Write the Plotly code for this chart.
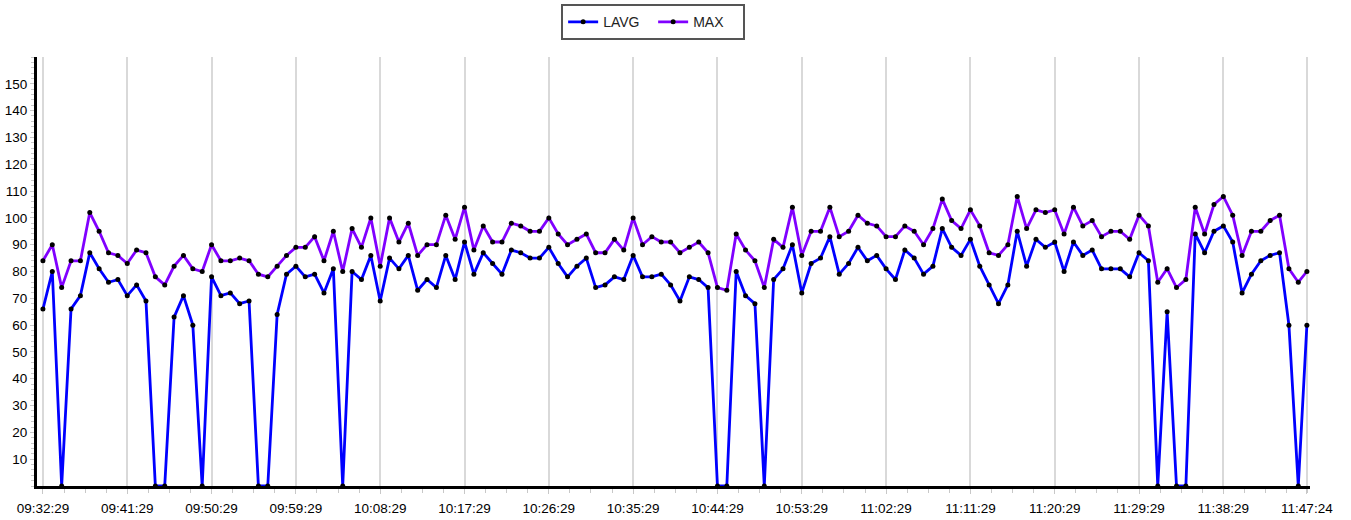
import datetime as dt
import plotly.graph_objects as go

# ---- data ----
start_time = "09:32:29"
last_time = "11:47:24"
lavg = [66, 80, 0, 66, 71, 87, 81, 76, 77, 71, 75, 69, 0, 0, 63, 71, 60, 0, 78, 71,
        72, 68, 69, 0, 0, 64, 79, 82, 78, 79, 72, 81, 0, 80, 77, 86, 69, 85, 81, 86,
        73, 77, 74, 86, 77, 91, 79, 87, 83, 79, 88, 87, 85, 85, 89, 83, 78, 82, 85, 74,
        75, 78, 77, 86, 78, 78, 79, 75, 69, 78, 77, 74, 0, 0, 80, 71, 68, 0, 77, 81,
        90, 72, 83, 85, 93, 79, 83, 89, 84, 86, 81, 77, 88, 85, 79, 82, 96, 89, 86, 92,
        82, 75, 68, 75, 95, 82, 92, 89, 91, 80, 91, 86, 88, 81, 81, 81, 78, 87, 84, 0,
        65, 0, 0, 94, 87, 95, 97, 91, 72, 79, 84, 86, 87, 60, 0, 60]
maxv = [84, 90, 74, 84, 84, 102, 95, 87, 86, 83, 88, 87, 78, 75, 82, 86, 81, 80, 90, 84,
        84, 85, 84, 79, 78, 82, 86, 89, 89, 93, 84, 95, 80, 96, 89, 100, 82, 100, 91, 98,
        86, 90, 90, 101, 92, 104, 88, 97, 91, 91, 98, 97, 95, 95, 100, 94, 90, 92, 94, 87,
        87, 92, 88, 100, 90, 93, 91, 91, 87, 89, 91, 87, 74, 73, 94, 88, 84, 74, 92, 89,
        104, 86, 95, 95, 104, 93, 95, 101, 98, 97, 93, 93, 97, 95, 90, 96, 107, 99, 96, 103,
        97, 87, 86, 90, 108, 96, 103, 102, 103, 94, 104, 97, 99, 93, 95, 95, 92, 101, 97, 76,
        81, 74, 77, 104, 94, 105, 108, 101, 86, 95, 95, 99, 101, 81, 76, 80]
y_tick_vals = list(range(10, 160, 10))

# ---- build time axis (one sample per minute, final sample at last_time) ----
day = "2024-01-01 "
t0 = dt.datetime.strptime(day + start_time, "%Y-%m-%d %H:%M:%S")
tl = dt.datetime.strptime(day + last_time, "%Y-%m-%d %H:%M:%S")
times = [t0 + dt.timedelta(minutes=i) for i in range(len(lavg) - 1)] + [tl]

tick_times = []
t = t0
while t < tl - dt.timedelta(minutes=5):
    tick_times.append(t)
    t += dt.timedelta(minutes=9)
tick_times.append(tl)
tick_text = [x.strftime("%H:%M:%S") for x in tick_times]

fig = go.Figure()
fig.add_trace(go.Scatter(
    x=times, y=lavg, name="LAVG", mode="lines+markers",
    line=dict(color="#0000ff", width=2.8),
    marker=dict(color="#000000", size=5),
    cliponaxis=False,
))
fig.add_trace(go.Scatter(
    x=times, y=maxv, name="MAX", mode="lines+markers",
    line=dict(color="#8000ff", width=2.8),
    marker=dict(color="#000000", size=5),
    cliponaxis=False,
))

fig.update_layout(
    width=1351, height=520,
    margin=dict(l=37, r=41, t=57, b=34, autoexpand=False),
    paper_bgcolor="white", plot_bgcolor="white",
    font=dict(family="Liberation Sans, Arial, sans-serif", size=13.5, color="#000"),
    showlegend=True,
    legend=dict(
        orientation="h", x=0.484, xanchor="center", y=1.123, yanchor="top",
        bordercolor="#555555", borderwidth=2, bgcolor="white",
        font=dict(size=14, color="#222"),
        entrywidth=45,
    ),
)
fig.update_xaxes(
    type="date", automargin=False,
    range=[t0 - dt.timedelta(seconds=38), tl + dt.timedelta(seconds=20)],
    tickvals=tick_times, ticktext=tick_text,
    showgrid=True, gridcolor="#d9d9d9", gridwidth=2,
    showline=True, linecolor="#000", linewidth=3,
    ticks="outside", ticklen=5, tickcolor="#c8c8c8", tickwidth=1,
    ticklabelstandoff=3,
    minor=dict(tick0=t0, dtick=135000, ticks="outside", ticklen=4,
               tickcolor="#c8c8c8", showgrid=False),
    zeroline=False, fixedrange=True,
)
fig.update_yaxes(
    range=[0, 160], automargin=False,
    tickvals=y_tick_vals,
    showgrid=False,
    showline=True, linecolor="#000", linewidth=3,
    ticks="outside", ticklen=4, tickcolor="#c8c8c8", tickwidth=1,
    minor=dict(dtick=2, ticks="outside", ticklen=3, tickcolor="#c8c8c8", showgrid=False),
    zeroline=False, fixedrange=True,
)

fig.write_html(
    "out.html",
    config={"displayModeBar": False},
    post_script="document.body.style.margin='0';document.body.style.overflow='hidden';",
)
